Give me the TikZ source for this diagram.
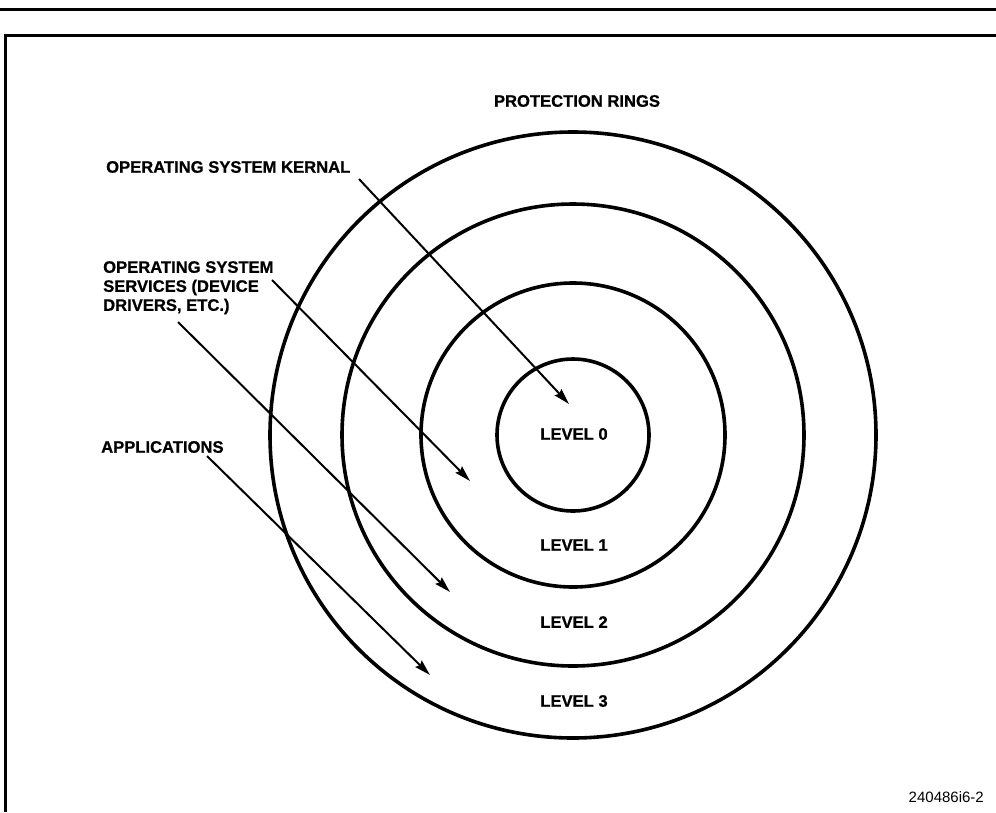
\documentclass[tikz,border=0pt]{standalone}
\usepackage{fontspec}
\setmainfont[BoldFeatures={FakeBold=0.8}]{Liberation Sans}
\usetikzlibrary{arrows.meta}
\begin{document}
\begin{tikzpicture}[x=1pt,y=-1pt,
  ring/.style={draw,line width=3.6pt},
  frameline/.style={line width=3pt},
  lbl/.style={font=\fontsize{16.6}{19}\selectfont\bfseries,inner sep=0pt},
  lvl/.style={font=\fontsize{16.6}{19}\selectfont\bfseries,inner sep=0pt},
  ptr/.style={line width=2pt,-{Stealth[length=16pt,width=9pt,inset=2pt]}}]
\useasboundingbox (0,0) rectangle (996,812);
% frame
\draw[frameline] (0,9) -- (996,9);
\draw[frameline] (5,812) -- (5,35) -- (998,35);
% rings
\coordinate (c) at (573,435);
\draw[ring] (c) circle[radius=303];
\draw[ring] (c) circle[radius=231];
\draw[ring] (c) circle[radius=152];
\draw[ring] (c) circle[radius=76];
% title
\node[lbl] (title) at (577,101) {PROTECTION RINGS};
% level labels
\node[lvl] (l0) at (574,434) {LEVEL 0};
\node[lvl] (l1) at (574,545) {LEVEL 1};
\node[lvl] (l2) at (574,622) {LEVEL 2};
\node[lvl] (l3) at (574,701) {LEVEL 3};
% side labels
\node[lbl,anchor=west] (kern) at (106,167) {OPERATING SYSTEM KERNAL};
\node[lbl,anchor=north west,align=left] (serv) at (103,261) {OPERATING SYSTEM\\SERVICES (DEVICE\\DRIVERS, ETC.)};
\node[lbl,anchor=west] (apps) at (101,447) {APPLICATIONS};
% code
\node[font=\fontsize{15}{18}\selectfont,inner sep=0pt,anchor=east] (code) at (984,797) {240486i6-2};
% arrows
\coordinate (a1s) at (359,179);
\coordinate (a1e) at (569,404);
\coordinate (a2s) at (272,280);
\coordinate (a2e) at (470,481);
\coordinate (a3s) at (178,322);
\coordinate (a3e) at (450,592);
\coordinate (a4s) at (207,456);
\coordinate (a4e) at (430,675);
\draw[ptr] (a1s) -- (a1e);
\draw[ptr] (a2s) -- (a2e);
\draw[ptr] (a3s) -- (a3e);
\draw[ptr] (a4s) -- (a4e);
\end{tikzpicture}
\end{document}
